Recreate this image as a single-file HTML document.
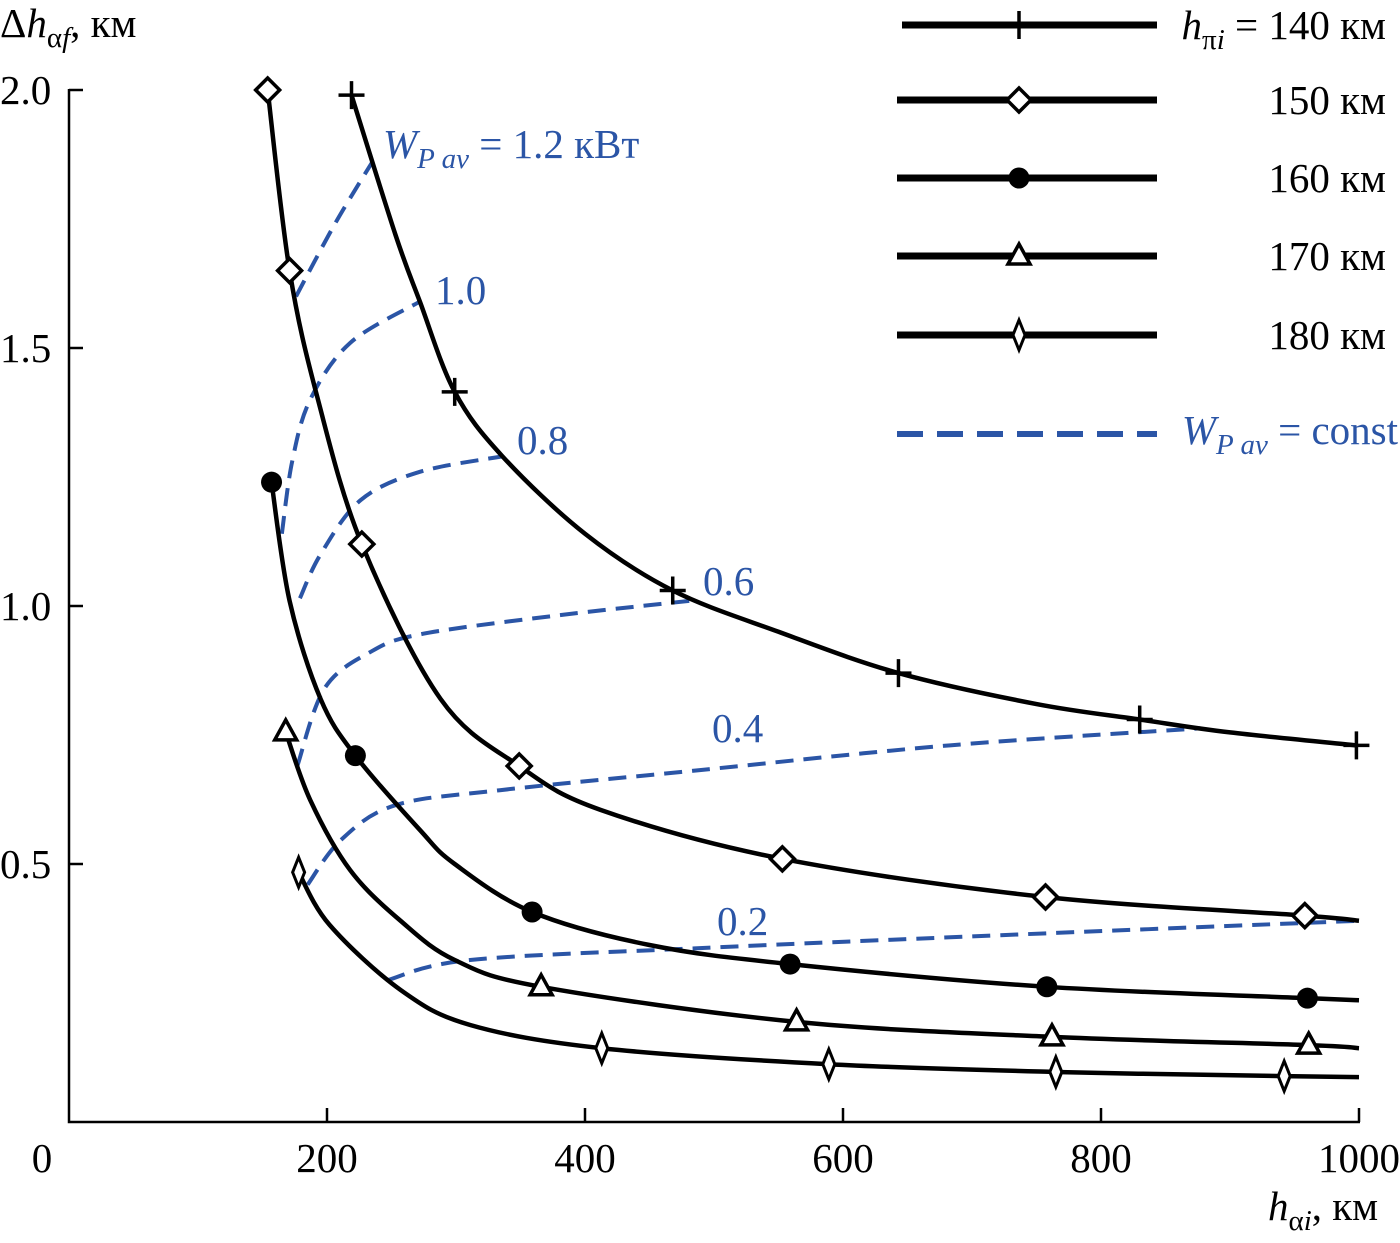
<!DOCTYPE html>
<html><head><meta charset="utf-8"><style>
html,body{margin:0;padding:0;background:#fff;}
svg{display:block;font-family:"Liberation Serif",serif;}
</style></head><body>
<svg id="chart" width="1400" height="1243" viewBox="0 0 1400 1243" xmlns="http://www.w3.org/2000/svg">
<g id="axes"></g>
<g id="dashed"></g>
<g id="curves"></g>
<g id="legend"></g>
</svg>
<script>
const xTicks=[0,200,400,600,800,1000];
const xTickLabels=["0","200","400","600","800","1000"];
const yTicks=[0.5,1.0,1.5,2.0];
const yTickLabels=["0.5","1.0","1.5","2.0"];

const x140=[219,253,272,299,336,400,468,550,643,750,830,900,998];
const y140=[1.99,1.72,1.59,1.415,1.29,1.14,1.03,0.95,0.87,0.81,0.78,0.755,0.73];
const m140x=[219,299,468,643,830,998];
const m140y=[1.99,1.415,1.03,0.87,0.78,0.73];

const x150=[154,171,193,227,288,349,412,553,757,958,1000];
const y150=[2.0,1.65,1.40,1.12,0.82,0.69,0.605,0.51,0.436,0.40,0.39];
const m150x=[154,171,227,349,553,757,958];
const m150y=[2.0,1.65,1.12,0.69,0.51,0.436,0.40];

const x160=[157,171,195,222,272,299,359,450,559,758,960,1000];
const y160=[1.24,1.01,0.82,0.71,0.566,0.50,0.407,0.343,0.306,0.262,0.24,0.236];
const m160x=[157,222,359,559,758,960];
const m160y=[1.24,0.71,0.407,0.306,0.262,0.24];

const x170=[168,187,218,257,299,366,564,762,961,1000];
const y170=[0.756,0.624,0.488,0.39,0.314,0.262,0.194,0.165,0.149,0.143];
const m170x=[168,366,564,762,961];
const m170y=[0.756,0.262,0.194,0.165,0.149];

const x180=[178,202,257,311,413,589,765,942,1000];
const y180=[0.484,0.382,0.256,0.188,0.143,0.112,0.097,0.089,0.087];
const m180x=[178,413,589,765,942];
const m180y=[0.484,0.143,0.112,0.097,0.089];

const wLabels=["1.2","1.0","0.8","0.6","0.4","0.2"];
const wx12=[176,206,235]; const wy12=[1.60,1.74,1.86];
const wx10=[165,173,187,218,272]; const wy10=[1.14,1.28,1.40,1.51,1.59];
const wx08=[179,195,226,272,336]; const wy08=[1.015,1.10,1.205,1.26,1.29];
const wx06=[177,198,233,272,373,481]; const wy06=[0.69,0.84,0.91,0.945,0.98,1.01];
const wx04=[185,211,253,334,489,683,877]; const wy04=[0.46,0.547,0.614,0.643,0.682,0.73,0.763];
const wx02=[247,311,489,722,1000]; const wy02=[0.275,0.314,0.337,0.362,0.39];

const NS="http://www.w3.org/2000/svg";
const FS=41, SS=29;
const X=v=>69+v*1.29, Y=v=>1122-v*516;
function mk(tag,attrs,parent){const e=document.createElementNS(NS,tag);for(const k in attrs)e.setAttribute(k,attrs[k]);parent.appendChild(e);return e;}
function smooth(xs,ys){const p=xs.map((x,i)=>[X(x),Y(ys[i])]);let d="M"+p[0][0]+","+p[0][1];
 for(let i=0;i<p.length-1;i++){const p0=p[i-1]||p[i],p1=p[i],p2=p[i+1],p3=p[i+2]||p2;
 d+=" C"+(p1[0]+(p2[0]-p0[0])/6)+","+(p1[1]+(p2[1]-p0[1])/6)+" "+(p2[0]-(p3[0]-p1[0])/6)+","+(p2[1]-(p3[1]-p1[1])/6)+" "+p2[0]+","+p2[1];}
 return d;}
const axes=document.getElementById('axes');
let e=mk('path',{d:"M69,89 V1122 H1360",fill:"none",stroke:"#000","stroke-width":2.5},axes);


xTicks.forEach((t,i)=>{
 if(t>0){let tk=mk('line',{x1:X(t),x2:X(t),y1:1122,y2:1108,stroke:"#000","stroke-width":2.5},axes);
 
 }
 let tx=mk('text',{x:t===0?42:X(t),y:1172,"font-size":FS,"text-anchor":"middle"},axes);tx.textContent=xTickLabels[i];
 
 
});
yTicks.forEach((t,i)=>{
 let tk=mk('line',{x1:69,x2:83,y1:Y(t),y2:Y(t),stroke:"#000","stroke-width":2.5},axes);
 
 
 let tx=mk('text',{x:0,y:Y(t)+14,"font-size":FS},axes);tx.textContent=yTickLabels[i];
 
 
});
let yt=mk('text',{x:0,y:37,"font-size":FS},axes);
yt.innerHTML='Δ<tspan font-style="italic">h</tspan><tspan font-size="'+SS+'" dy="10">α<tspan font-style="italic">f</tspan></tspan><tspan dy="-10">, км</tspan>';


let xt=mk('text',{x:1268,y:1220,"font-size":FS},axes);
xt.innerHTML='<tspan font-style="italic">h</tspan><tspan font-size="'+SS+'" dy="10">α<tspan font-style="italic">i</tspan></tspan><tspan dy="-10">, км</tspan>';



const dg=document.getElementById('dashed');
const wsets=[[wx12,wy12],[wx10,wy10],[wx08,wy08],[wx06,wy06],[wx04,wy04],[wx02,wy02]];
wsets.forEach(s=>{let p=mk('path',{d:smooth(s[0],s[1]),fill:"none",stroke:"#2B55A6","stroke-width":4,"stroke-dasharray":"18,10"},dg);
 
 });
const wlPos=[[383,158],[435,304],[517,454],[703,595],[712,742],[717,935]];
wLabels.forEach((l,i)=>{let t=mk('text',{x:wlPos[i][0],y:wlPos[i][1],"font-size":FS,fill:"#2B55A6"},dg);
 if(i===0)t.innerHTML='<tspan font-style="italic">W</tspan><tspan font-style="italic" font-size="'+SS+'" dy="10">P av</tspan><tspan dy="-10"> = 1.2 кВт</tspan>';else t.textContent=l;
 
 });

function marker(type,cx,cy,g){
 let m;
 if(type==='plus'){m=mk('path',{d:`M${cx-13},${cy}H${cx+13}M${cx},${cy-14}V${cy+14}`,stroke:"#000","stroke-width":3.5,fill:"none"},g);}
 else if(type==='diamond'){m=mk('path',{d:`M${cx},${cy-12}L${cx+12},${cy}L${cx},${cy+12}L${cx-12},${cy}Z`,stroke:"#000","stroke-width":3.5,fill:"#fff"},g);}
 else if(type==='circle'){m=mk('circle',{cx:cx,cy:cy,r:10.5,fill:"#000"},g);}
 else if(type==='tri'){m=mk('path',{d:`M${cx},${cy-12}L${cx+11},${cy+8}L${cx-11},${cy+8}Z`,stroke:"#000","stroke-width":3.5,fill:"#fff"},g);}
 else {m=mk('path',{d:`M${cx},${cy-15}L${cx+6},${cy}L${cx},${cy+15}L${cx-6},${cy}Z`,stroke:"#000","stroke-width":3,fill:"#fff"},g);}
 
 
}
const cg=document.getElementById('curves');
const series=[[x140,y140,m140x,m140y,'plus','140'],[x150,y150,m150x,m150y,'diamond','150'],[x160,y160,m160x,m160y,'circle','160'],[x170,y170,m170x,m170y,'tri','170'],[x180,y180,m180x,m180y,'thin','180']];
series.forEach(s=>{
 let g=mk('g',{},cg);
 
 
 let p=mk('path',{d:smooth(s[0],s[1]),fill:"none",stroke:"#000","stroke-width":4.5},g);
 
 
 s[2].forEach((mx,i)=>marker(s[4],X(mx),Y(s[3][i]),g));
});

const lg=document.getElementById('legend');
const legY=[25,100,178,256,335];
series.forEach((s,i)=>{
 let g=mk('g',{},lg);
 
 
 mk('line',{x1:i===0?902:897,x2:1157,y1:legY[i],y2:legY[i],stroke:"#000","stroke-width":7},g);
 marker(s[4],1019,legY[i],g);
 let t=mk('text',{x:1386,y:legY[i]+14,"font-size":FS,"text-anchor":"end"},g);
 if(i===0)t.innerHTML='<tspan font-style="italic">h</tspan><tspan font-size="'+SS+'" dy="10">π<tspan font-style="italic">i</tspan></tspan><tspan dy="-10"> = 140 км</tspan>';else t.textContent=s[5]+' км';
});
let g2=mk('g',{},lg);


mk('line',{x1:897,x2:1157,y1:434,y2:434,stroke:"#2B55A6","stroke-width":6,"stroke-dasharray":"26,14"},g2);
let ct=mk('text',{x:1398,y:444,"font-size":FS,"text-anchor":"end",fill:"#2B55A6"},g2);
ct.innerHTML='<tspan font-style="italic">W</tspan><tspan font-style="italic" font-size="'+SS+'" dy="10">P av</tspan><tspan dy="-10"> = const</tspan>';
</script>
</body></html>
